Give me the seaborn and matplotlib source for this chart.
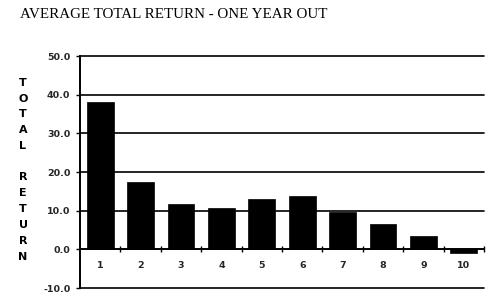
import matplotlib
matplotlib.use("Agg")
import matplotlib.pyplot as plt
import seaborn as sns
import pandas as pd
import numpy as np

categories = ["1", "2", "3", "4", "5", "6", "7", "8", "9", "10"]
total_return = [38.0, 17.5, 11.7, 10.8, 12.9, 13.8, 9.6, 6.5, 3.4, -1.0]
y_ticks = [-10, 0, 10, 20, 30, 40, 50]
title = "AVERAGE TOTAL RETURN - ONE YEAR OUT"
ylabel = "TOTAL RETURN"

sns.set_theme(style="white")
plt.rcParams['font.family'] = ['DejaVu Sans']

df = pd.DataFrame({"cat": categories, "ret": total_return})

fig = plt.figure(figsize=(5.04, 3.05), dpi=100)
ax = fig.add_axes([80/504, 1-288/305, (484-80)/504, (288-56)/305])

sns.barplot(data=df, x="cat", y="ret", order=categories, color="black",
            width=0.66, saturation=1, ax=ax, edgecolor="black", linewidth=0.5, zorder=3)

ax.set_xlim(-0.5, 9.5)
ax.set_ylim(-10, 50)
ax.set_yticks(y_ticks)
ax.set_yticklabels([f"{v:.1f}" for v in y_ticks], fontsize=6.8, fontweight="bold")
ax.grid(axis="y", color="black", linewidth=1.2)
ax.grid(axis="x", visible=False)
for gl in ax.get_ygridlines():
    gl.set_clip_on(False)
ax.set_axisbelow(True)

for s in ["top", "right"]:
    ax.spines[s].set_visible(False)
ax.spines["left"].set_color("black")
ax.spines["left"].set_linewidth(1.4)
ax.spines["bottom"].set_position(("data", 0))
ax.spines["bottom"].set_color("black")
ax.spines["bottom"].set_linewidth(1.2)

ax.tick_params(axis="y", which="major", direction="out", length=3, width=1,
               color="black", pad=4, left=True)
ax.set_xticks(range(len(categories)))
ax.set_xticklabels(categories, fontsize=6.8, fontweight="bold")
ax.set_xticks(np.arange(0.5, len(categories), 1.0), minor=True)
ax.tick_params(axis="x", which="major", length=0, pad=8.5, bottom=True)
ax.tick_params(axis="x", which="minor", direction="inout", length=5, width=1,
               color="black", bottom=True)
ax.set_xlabel("")
ax.set_ylabel("")

fig.text(20/504, 1-15/305, title, family="Liberation Serif", fontsize=10.8,
         va="center", ha="left", color="black")

step = 15.8
y0 = 82.7
for i, ch in enumerate(ylabel):
    if ch == " ":
        continue
    fig.text(23/504, 1-(y0 + i*step)/305, ch, fontsize=8, fontweight="bold",
             ha="center", va="center", color="black")

fig.savefig("out.png", dpi=100, facecolor="white")
